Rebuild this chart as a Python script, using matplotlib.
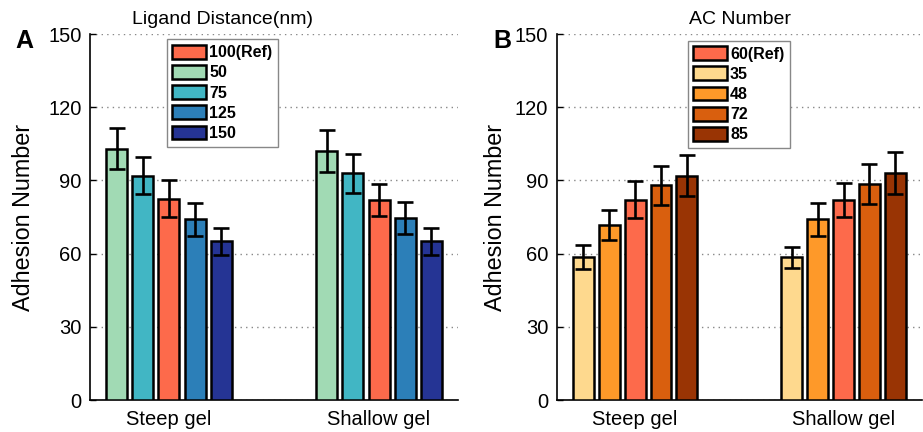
import matplotlib
matplotlib.use("Agg")
import matplotlib.pyplot as plt
import numpy as np

plt.rcParams['font.family'] = ['Liberation Sans', 'DejaVu Sans']

groups = ["Steep gel", "Shallow gel"]

# Panel A: ligand distance
a_labels = ["50", "75", "100(Ref)", "125", "150"]
a_colors = ["#a1dab4", "#41b6c4", "#fd6a4b", "#2c7fb8", "#253494"]
a_steep = [103, 92, 82.5, 74, 65]
a_steep_err = [8.3, 7.7, 7.5, 6.8, 5.4]
a_shallow = [102, 93, 82, 74.5, 65]
a_shallow_err = [8.7, 8.0, 6.7, 6.5, 5.4]

# Panel B: AC number
b_labels = ["35", "48", "60(Ref)", "72", "85"]
b_colors = ["#fed98e", "#fe9929", "#fd6a4b", "#d95f0e", "#993404"]
b_steep = [58.7, 71.7, 82, 88, 92]
b_steep_err = [5.0, 6.2, 7.6, 8.0, 8.4]
b_shallow = [58.6, 74, 82, 88.5, 93]
b_shallow_err = [4.3, 6.6, 6.8, 8.1, 8.7]

yticks = [0, 30, 60, 90, 120, 150]
legend_order = [2, 0, 1, 3, 4]

W, H = 923, 432
fig = plt.figure(figsize=(W / 100, H / 100), dpi=100)


def px_axes(x0, y0, x1, y1):
    return fig.add_axes([x0 / W, 1 - y1 / H, (x1 - x0) / W, (y1 - y0) / H])


def draw_panel(ax, labels, colors, steep, steep_err, shallow, shallow_err, leg_anchor, ylab_x):
    x = np.arange(1, len(groups) + 1)
    handles = []
    for i in range(len(labels)):
        off = (i - 2) * 0.124
        vals = [steep[i], shallow[i]]
        errs = [steep_err[i], shallow_err[i]]
        b = ax.bar(x + off, vals, width=0.1, color=colors[i], edgecolor="black",
                   linewidth=1.8, zorder=3, label=labels[i])
        ax.errorbar(x + off, vals, yerr=errs, fmt="none", ecolor="black",
                    elinewidth=1.9, capsize=6, capthick=1.9, zorder=4)
        handles.append(b)
    ax.set_xlim(0.624, 2.376)
    ax.set_ylim(0, 150)
    ax.set_yticks(yticks)
    ax.set_xticks(x)
    ax.set_xticklabels(groups, fontsize=14.5)
    ax.tick_params(axis="y", direction="in", length=4, width=1, labelsize=14.5, pad=6)
    ax.tick_params(axis="x", length=0, pad=7)
    ax.yaxis.grid(True, linestyle=(0, (1, 3)), color="#888888", linewidth=1.0, zorder=0)
    ax.set_axisbelow(True)
    for s in ["top", "right"]:
        ax.spines[s].set_visible(False)
    for s in ["left", "bottom"]:
        ax.spines[s].set_linewidth(1.2)
    ax.set_ylabel("Adhesion Number", fontsize=16.8)
    ax.yaxis.label.set_va("center")
    ax.yaxis.set_label_coords(ylab_x, 0.5)
    hs = [handles[k] for k in legend_order]
    ls = [labels[k] for k in legend_order]
    leg = ax.legend(hs, ls, loc="upper left", bbox_to_anchor=leg_anchor,
                    borderaxespad=0, fancybox=False, framealpha=1,
                    edgecolor="#888888", prop={"weight": "bold", "size": 11.5},
                    handlelength=2.1, handleheight=0.95, labelspacing=0.3,
                    handletextpad=0.2, borderpad=0.35)
    leg.get_frame().set_linewidth(1.0)
    leg.set_zorder(10)


axA = px_axes(90, 34, 458, 400)
draw_panel(axA, a_labels, a_colors, a_steep, a_steep_err, a_shallow, a_shallow_err,
           (0.2084, 0.9855), (24 - 90) / 368)
axB = px_axes(556.7, 34, 922, 400)
draw_panel(axB, b_labels, b_colors, b_steep, b_steep_err, b_shallow, b_shallow_err,
           (0.3586, 0.9817), (495 - 556.7) / 365.3)

fig.text(222 / W, 1 - 20 / H, "Ligand Distance(nm)", ha="center", va="center", fontsize=14)
fig.text(740 / W, 1 - 20 / H, "AC Number", ha="center", va="center", fontsize=14)
fig.text(24 / W, 1 - 41 / H, "A", ha="center", va="center", fontsize=18, fontweight="bold")
fig.text(502 / W, 1 - 41 / H, "B", ha="center", va="center", fontsize=18, fontweight="bold")

fig.savefig("out.png", dpi=100)
